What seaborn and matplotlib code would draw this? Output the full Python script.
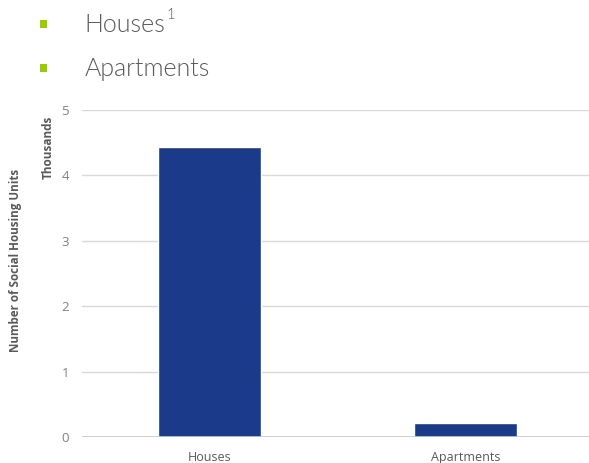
import matplotlib
matplotlib.use("Agg")
import matplotlib.pyplot as plt
from matplotlib.patches import Rectangle
from matplotlib import font_manager
import seaborn as sns
import pandas as pd

categories = ["Houses", "Apartments"]
units_thousands = [4.43, 0.21]
legend_labels = ["Houses", "Apartments"]
legend_notes = ["1", ""]
y_ticks = [0, 1, 2, 3, 4, 5]

sns.set_theme(style="white")
plt.rcParams["font.family"] = ["Open Sans", "DejaVu Sans"]

# pick a light (300) face for the bulleted list if one is installed
light_family = "Open Sans"
for f in font_manager.fontManager.ttflist:
    if f.name in ("Open Sans", "Lato", "Roboto") and f.weight == 300:
        light_family = f.name
        break

df = pd.DataFrame({"type": categories, "units": units_thousands})

fig = plt.figure(figsize=(5.89, 4.63), dpi=100)
ax = fig.add_axes([0.1385, 0.0562, 0.8615, 0.7062])

sns.barplot(data=df, x="type", y="units", color="#1b3a8a", width=0.4,
            saturation=1, ax=ax, zorder=3)

ax.set_ylim(0, 5)
ax.set_xlim(-0.5, 1.482)
ax.set_yticks(y_ticks)
ax.set_yticklabels([str(t) for t in y_ticks], color="#808080", fontsize=9.5)
ax.yaxis.grid(True, color="#d9d9d9", linewidth=1, zorder=0)
for s in ax.spines.values():
    s.set_visible(False)
ax.axhline(0, color="#c8c8c8", linewidth=1.2, zorder=4)
ax.tick_params(axis="y", length=0, pad=9)
ax.tick_params(axis="x", length=0, pad=10, labelsize=9, labelcolor="#595959")
ax.set_xlabel("")
ax.set_ylabel("")

# axis titles
fig.text(0.082, 0.682, "Thousands", rotation=90, ha="center", va="center",
         fontsize=8.5, fontweight="bold", color="#595959")
fig.text(0.027, 0.438, "Number of Social Housing Units", rotation=90,
         ha="center", va="center", fontsize=8.4, fontweight="bold",
         color="#595959")

# bulleted series list above the chart
bullet_y = [0.946, 0.851]
for lbl, note, yy in zip(legend_labels, legend_notes, bullet_y):
    fig.patches.append(Rectangle((0.068, yy - 0.006), 0.0125, 0.016,
                                 transform=fig.transFigure,
                                 facecolor="#99cc00", edgecolor="none"))
    t = fig.text(0.144, yy, lbl, ha="left", va="center", fontsize=18,
                 family=light_family, fontweight=300, color="#595959")
    if note:
        fig.canvas.draw()
        bb = t.get_window_extent().transformed(fig.transFigure.inverted())
        fig.text(bb.x1 + 0.001, yy + 0.022, note, ha="left", va="center",
                 fontsize=10.5, family=light_family, fontweight=300,
                 color="#595959")

fig.savefig("out.png", dpi=100)
